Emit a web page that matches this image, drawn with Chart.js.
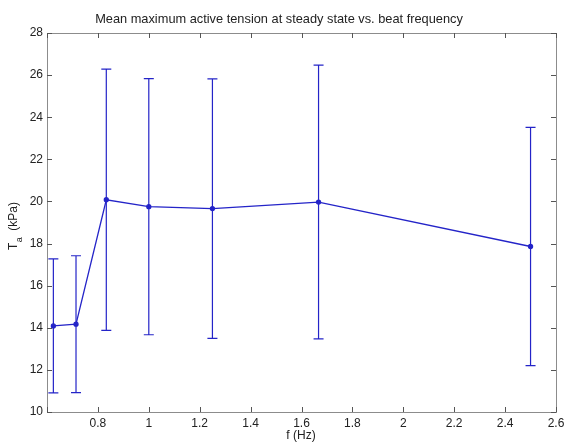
<!DOCTYPE html>
<html>
<head>
<meta charset="utf-8">
<script src="https://cdn.jsdelivr.net/npm/chart.js@4.4.1/dist/chart.umd.min.js"></script>
<style>
  html, body { margin: 0; padding: 0; background: #fff; }
  #wrap { width: 569px; height: 448px; }
</style>
</head>
<body>
<div id="wrap"><canvas id="errChart" width="569" height="448"></canvas></div>
<script>
/* data */
var freqs = [0.625, 0.714, 0.833, 1.0, 1.25, 1.667, 2.5];
var meanTension = [14.09, 14.17, 20.08, 19.75, 19.66, 19.97, 17.86];
var errTension = [3.18, 3.25, 6.2, 6.08, 6.16, 6.5, 5.66];
var xTicks = [0.6, 0.8, 1, 1.2, 1.4, 1.6, 1.8, 2, 2.2, 2.4, 2.6];
var yTicks = [10, 12, 14, 16, 18, 20, 22, 24, 26, 28];

var blue = "#2424c8";
var fontName = "'Liberation Sans', Arial, sans-serif";

var points = freqs.map(function (f, i) {
    return { x: f, y: meanTension[i] };
});

// error bars, box and inward ticks (matlab look)
var matlabAxes = {
    id: "matlabAxes",
    afterDatasetsDraw: function (chart) {
        var ctx = chart.ctx;
        var xs = chart.scales.x, ys = chart.scales.y;
        var area = chart.chartArea;

        ctx.save();
        ctx.strokeStyle = blue;
        ctx.lineWidth = 1.2;
        for (var i = 0; i < freqs.length; i++) {
            var px = xs.getPixelForValue(freqs[i]);
            var top = ys.getPixelForValue(meanTension[i] + errTension[i]);
            var bot = ys.getPixelForValue(meanTension[i] - errTension[i]);
            ctx.beginPath();
            ctx.moveTo(px, top);
            ctx.lineTo(px, bot);
            ctx.moveTo(px - 5, top);
            ctx.lineTo(px + 5, top);
            ctx.moveTo(px - 5, bot);
            ctx.lineTo(px + 5, bot);
            ctx.stroke();
        }
        ctx.restore();

        ctx.save();
        ctx.strokeStyle = "#8c8c8c";
        ctx.lineWidth = 1;
        ctx.strokeRect(Math.round(area.left) + 0.5, Math.round(area.top) + 0.5,
            Math.round(area.right - area.left), Math.round(area.bottom - area.top));
        ctx.strokeStyle = "#555";
        ctx.beginPath();
        xTicks.forEach(function (v) {
            var px = Math.round(xs.getPixelForValue(v)) + 0.5;
            ctx.moveTo(px, area.bottom);
            ctx.lineTo(px, area.bottom - 5);
            ctx.moveTo(px, area.top);
            ctx.lineTo(px, area.top + 5);
        });
        yTicks.forEach(function (v) {
            var py = Math.round(ys.getPixelForValue(v)) + 0.5;
            ctx.moveTo(area.left, py);
            ctx.lineTo(area.left + 5, py);
            ctx.moveTo(area.right, py);
            ctx.lineTo(area.right - 5, py);
        });
        ctx.stroke();
        ctx.restore();

        // texts
        ctx.save();
        ctx.fillStyle = "#222";
        ctx.textAlign = "center";
        ctx.textBaseline = "alphabetic";
        ctx.font = "12.8px " + fontName;
        ctx.fillText("Mean maximum active tension at steady state vs. beat frequency", 279, 23);
        ctx.font = "12px " + fontName;
        ctx.fillText("f (Hz)", 301, 439);

        ctx.translate(17, 250);
        ctx.rotate(-Math.PI / 2);
        ctx.textAlign = "left";
        ctx.fillText("T", 0, 0);
        var tw = ctx.measureText("T").width;
        ctx.font = "9px " + fontName;
        ctx.fillText("a", tw + 0.5, 5);
        ctx.font = "12px " + fontName;
        ctx.fillText(" (kPa)", tw + ctx.measureText("a").width + 2, 0);
        ctx.restore();
    }
};

window.onload = function () {
    var ctx = document.getElementById("errChart").getContext("2d");
    window.myChart = new Chart(ctx, {
        type: "scatter",
        data: {
            datasets: [{
                data: points,
                showLine: true,
                borderColor: blue,
                backgroundColor: blue,
                borderWidth: 1.3,
                pointRadius: 2,
                pointHoverRadius: 2
            }]
        },
        options: {
            responsive: false,
            animation: false,
            layout: { padding: { top: 33, right: 13, left: 0, bottom: 0 } },
            plugins: {
                legend: { display: false },
                tooltip: { enabled: false }
            },
            scales: {
                x: {
                    type: "linear",
                    min: 0.6,
                    max: 2.6,
                    afterFit: function (s) { s.height = 36; },
                    afterBuildTicks: function (s) {
                        s.ticks = xTicks.map(function (v) { return { value: v }; });
                    },
                    grid: { display: false, drawTicks: false, tickLength: 0 },
                    border: { display: false },
                    ticks: {
                        padding: 4,
                        color: "#222",
                        font: { family: fontName, size: 12 },
                        maxRotation: 0,
                        autoSkip: false,
                        callback: function (v) { return v < 0.7 ? "" : String(v); }
                    }
                },
                y: {
                    min: 10,
                    max: 28,
                    afterFit: function (s) { s.width = 47; },
                    afterBuildTicks: function (s) {
                        s.ticks = yTicks.map(function (v) { return { value: v }; });
                    },
                    grid: { display: false, drawTicks: false, tickLength: 0 },
                    border: { display: false },
                    ticks: {
                        padding: 4,
                        color: "#222",
                        font: { family: fontName, size: 12 }
                    }
                }
            }
        },
        plugins: [matlabAxes]
    });
};
</script>
</body>
</html>
